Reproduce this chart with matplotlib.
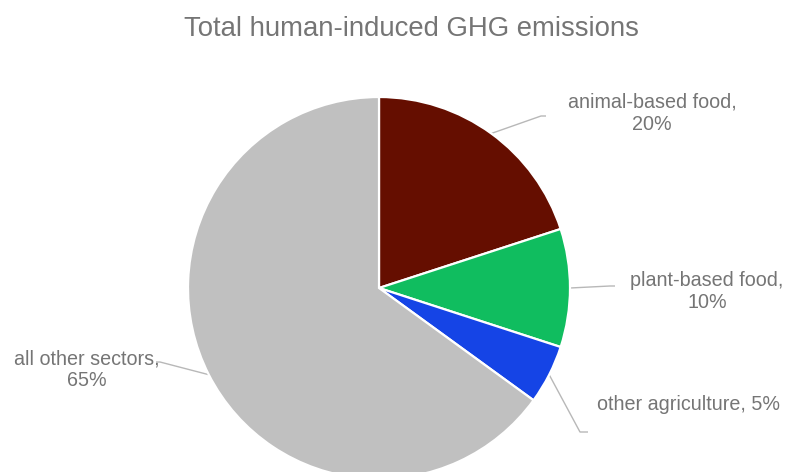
import numpy as np
import matplotlib.pyplot as plt

plt.rcParams['font.family'] = ['Liberation Sans', 'DejaVu Sans']

# Share of total human-induced GHG emissions
sectors = ['animal-based food', 'plant-based food', 'other agriculture', 'all other sectors']
shares = [20, 10, 5, 65]
colors = ['#650e00', '#10bd5f', '#1544e6', '#c0c0c0']

text_col = '#757575'
line_col = '#b8b8b8'

fig = plt.figure(figsize=(7.9, 4.72), dpi=100)
ax = fig.add_axes([0, 0, 1, 1])
ax.axis('off')

cx, cy, r = 379, 184, 191
wedges, _ = ax.pie(shares, colors=colors, startangle=90, counterclock=False,
                   center=(cx, cy), radius=r,
                   wedgeprops=dict(edgecolor='white', linewidth=1.6))
ax.set_xlim(0, 790)
ax.set_ylim(0, 472)
ax.set_aspect('equal')

# leader line elbows and label anchors for each slice
elbows = [(541, 356), (610, 186), (580, 40), (160, 110)]
ends = [(546, 356), (615, 186), (588, 40), (156, 110)]
label_pos = [(652, 359, 'center'), (707, 180, 'center'), (597, 67, 'left'), (87, 102, 'center')]
label_text = ['%s,\n%d%%' % (sectors[0], shares[0]),
              '%s,\n%d%%' % (sectors[1], shares[1]),
              '%s, %d%%' % (sectors[2], shares[2]),
              '%s,\n%d%%' % (sectors[3], shares[3])]

for w, el, en, (tx, ty, ha), txt in zip(wedges, elbows, ends, label_pos, label_text):
    mid = np.deg2rad((w.theta1 + w.theta2) / 2)
    sx = cx + r * np.cos(mid)
    sy = cy + r * np.sin(mid)
    ax.plot([sx, el[0], en[0]], [sy, el[1], en[1]], color=line_col, lw=1.0,
            solid_capstyle='butt', zorder=0.5)
    ax.text(tx, ty, txt, ha=ha, va='center', color=text_col, fontsize=14.2,
            linespacing=1.2, multialignment='center')

ax.text(411, 472 - 29, 'Total human-induced GHG emissions', ha='center', va='center',
        color=text_col, fontsize=19.8)

fig.savefig('out.png', dpi=100)
